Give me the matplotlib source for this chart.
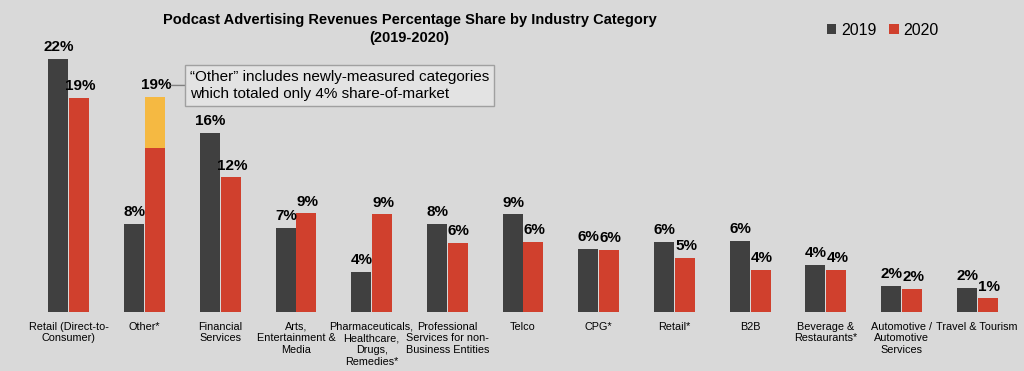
import matplotlib.pyplot as plt
import numpy as np

plt.rcParams['font.family'] = ['Liberation Sans', 'DejaVu Sans']

categories = ["Retail (Direct-to-\nConsumer)", "Other*", "Financial\nServices",
              "Arts,\nEntertainment &\nMedia", "Pharmaceuticals,\nHealthcare,\nDrugs,\nRemedies*",
              "Professional\nServices for non-\nBusiness Entities", "Telco", "CPG*", "Retail*",
              "B2B", "Beverage &\nRestaurants*", "Automotive /\nAutomotive\nServices",
              "Travel & Tourism"]
share_2019 = [22.0, 7.65, 15.6, 7.3, 3.5, 7.65, 8.5, 5.5, 6.1, 6.2, 4.1, 2.3, 2.1]
share_2020 = [18.6, 14.3, 11.7, 8.6, 8.5, 6.0, 6.1, 5.4, 4.7, 3.65, 3.65, 2.0, 1.2]
other_new = [0, 4.4, 0, 0, 0, 0, 0, 0, 0, 0, 0, 0, 0]  # newly-measured part of "Other"
labels_2019 = ["22%", "8%", "16%", "7%", "4%", "8%", "9%", "6%", "6%", "6%", "4%", "2%", "2%"]
labels_2020 = ["19%", "19%", "12%", "9%", "9%", "6%", "6%", "6%", "5%", "4%", "4%", "2%", "1%"]

bg = "#d9d9d9"
c19 = "#404040"
c20 = "#d0402d"
cnew = "#f5b942"

fig = plt.figure(figsize=(10.24, 3.71), dpi=100, facecolor=bg)
ax = fig.add_axes([0.0303, 0.159, 0.961, 0.744])
ax.set_facecolor(bg)

x = np.arange(len(categories))
w = 0.265
b1 = ax.bar(x - w/2 - 0.005, share_2019, w, color=c19, label="2019")
b2 = ax.bar(x + w/2 + 0.005, share_2020, w, color=c20, label="2020")
ax.bar(x + w/2 + 0.005, other_new, w, bottom=share_2020, color=cnew)

tot20 = np.array(share_2020) + np.array(other_new)
for i in range(len(x)):
    ax.text(x[i] - w/2, share_2019[i] + 0.4, labels_2019[i], ha='center', va='bottom',
            fontsize=11, fontweight='bold')
    ax.text(x[i] + w/2 + 0.02, tot20[i] + 0.4, labels_2020[i], ha='center', va='bottom',
            fontsize=11, fontweight='bold')

ax.set_xlim(-0.5, len(x) - 0.5)
ax.set_ylim(0, 24)
ax.set_xticks(x)
ax.set_xticklabels(categories, fontsize=7.8, linespacing=1.2)
ax.tick_params(length=0, pad=7)
ax.set_yticks([])
for s in ax.spines.values():
    s.set_visible(False)

# callout for Other
ax.annotate("\u201cOther\u201d includes newly-measured categories\nwhich totaled only 4% share-of-market",
            xy=(1.35, tot20[1] + 1.0), xytext=(1.6, tot20[1] + 1.0),
            fontsize=11, va='center', ha='left', linespacing=1.35,
            bbox=dict(boxstyle='square,pad=0.3', fc='#e3e3e3', ec='#a0a0a0', lw=1),
            arrowprops=dict(arrowstyle='-', color='#808080', lw=1, shrinkA=0, shrinkB=0))

fig.text(0.40, 0.945, "Podcast Advertising Revenues Percentage Share by Industry Category",
         ha='center', va='center', fontsize=10.5, fontweight='bold')
fig.text(0.40, 0.898, "(2019-2020)", ha='center', va='center', fontsize=10.5, fontweight='bold')

ax.legend(loc='center', bbox_to_anchor=(0.862, 0.918), bbox_transform=fig.transFigure, ncol=2,
          frameon=False, fontsize=11.5, handlelength=0.6, handleheight=0.6, handletextpad=0.3,
          columnspacing=0.8)

fig.savefig("out.png", dpi=100, facecolor=bg)
